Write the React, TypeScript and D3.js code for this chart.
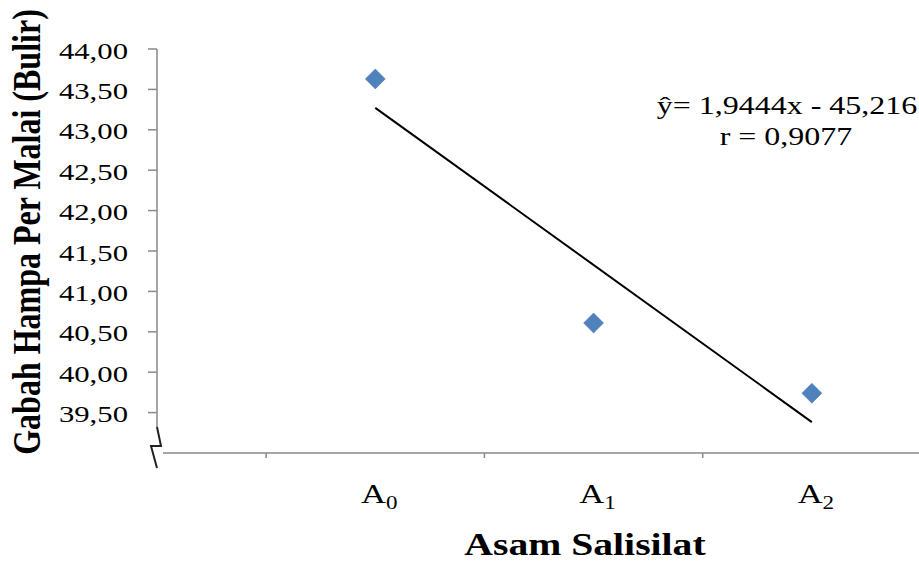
import React from 'react';
import * as d3 from 'd3';

// values
const categories = ['0', '1', '2'];
const xValues = [1, 2, 3];
const yValues = [43.63, 40.61, 39.74];
const yTicks = [39.5, 40, 40.5, 41, 41.5, 42, 42.5, 43, 43.5, 44];
const xTicks = [0.5, 1.5, 2.5];
const slope = -1.9444;
const intercept = 45.216;
const equationText = 'ŷ= 1,9444x - 45,216';
const rText = 'r = 0,9077';
const yTitle = 'Gabah Hampa Per Malai (Bulir)';
const xTitle = 'Asam Salisilat';

const W = 919;
const H = 563;
const SX = 1.28; // the picture is stretched sideways
const FONT = 'Liberation Serif';

const fmt = (v: number) => d3.format('.2f')(v).replace('.', ',');

const Stretched = ({ x, y, rotate = 0, children, ...rest }: any) => (
  <text
    transform={`translate(${x},${y}) scale(${SX},1)${rotate ? ` rotate(${rotate})` : ''}`}
    style={{ fontFamily: FONT }}
    {...rest}
  >
    {children}
  </text>
);

const App = () => {
  const axisX = 157;
  const axisY = 453;
  const breakTop = 427;

  const x = d3.scaleLinear().domain([0, 3.5]).range([axisX, 921]);
  const y = d3.scaleLinear().domain([39, 44]).range([axisY, 49]);

  const fitLine = d3.line<number>()
    .x(d => x(d))
    .y(d => y(slope * d + intercept));

  const diamond = d3.symbol(d3.symbolSquare, 200)();
  const axisColor = '#898989';

  return (
    <svg
      width={W}
      height={H}
      style={{ position: 'absolute', left: 0, top: 0, background: '#fff' }}
    >
      {/* y axis */}
      <line x1={axisX} x2={axisX} y1={y(44)} y2={breakTop} stroke={axisColor} strokeWidth={1.5} />
      {yTicks.map(t => (
        <g key={t}>
          <line x1={axisX - 9} x2={axisX} y1={y(t)} y2={y(t)} stroke={axisColor} strokeWidth={1.5} />
          <Stretched x={128} y={y(t) + 9.5} fontSize={24} textAnchor="end" fill="#000">
            {fmt(t)}
          </Stretched>
        </g>
      ))}

      {/* axis break */}
      <path
        d={`M${axisX},${breakTop} L${axisX + 4},${breakTop + 19} L${axisX - 6},${breakTop + 19} L${axisX},${breakTop + 41}`}
        fill="none"
        stroke="#222"
        strokeWidth={2}
      />

      {/* x axis */}
      <line x1={axisX + 6} x2={W} y1={axisY} y2={axisY} stroke={axisColor} strokeWidth={1.5} />
      {xTicks.map(t => (
        <line key={t} x1={x(t)} x2={x(t)} y1={axisY} y2={axisY + 5} stroke={axisColor} strokeWidth={1.5} />
      ))}
      {categories.map((c, i) => (
        <Stretched key={c} x={x(xValues[i]) + 4} y={503} fontSize={27} textAnchor="middle" fill="#000">
          A<tspan fontSize={18} dy={6}>{c}</tspan>
        </Stretched>
      ))}

      {/* regression line */}
      <path
        d={fitLine([xValues[0], xValues[xValues.length - 1]]) || ''}
        fill="none"
        stroke="#000"
        strokeWidth={2}
      />

      {/* points */}
      {xValues.map((v, i) => (
        <path
          key={i}
          d={diamond || ''}
          transform={`translate(${x(v)},${y(yValues[i])}) rotate(45)`}
          fill="#4F81BD"
          stroke="#4A7EBB"
          strokeWidth={0.5}
        />
      ))}

      {/* equation */}
      <Stretched x={787} y={114} fontSize={25} textAnchor="middle" fill="#000">
        {equationText}
      </Stretched>
      <Stretched x={786} y={145} fontSize={25} textAnchor="middle" fill="#000">
        {rText}
      </Stretched>

      {/* titles */}
      <Stretched x={40} y={232} rotate={-90} fontSize={32} fontWeight="bold" textAnchor="middle" fill="#000">
        {yTitle}
      </Stretched>
      <Stretched x={585} y={555} fontSize={31} fontWeight="bold" textAnchor="middle" fill="#000">
        {xTitle}
      </Stretched>
    </svg>
  );
};

export default App;
